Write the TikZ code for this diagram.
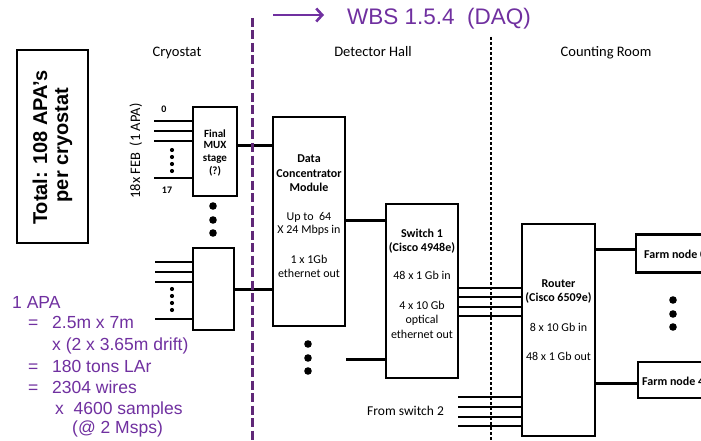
\documentclass[tikz,border=0pt]{standalone}
\usepackage{fontspec}
\setmainfont{Carlito}
\newfontfamily\arial{Liberation Sans}
\usetikzlibrary{arrows.meta}
\definecolor{apurple}{RGB}{112,48,160}
\definecolor{dpurple}{RGB}{96,40,120}
\tikzset{
  box/.style={draw=black, line width=2.4pt, rectangle, inner sep=0pt, fill=white},
  txt/.style={inner sep=0pt, anchor=base},
  hdr/.style={txt, font=\fontsize{14.5}{17}\selectfont},
  reg/.style={txt, font=\fontsize{12}{14}\selectfont},
  bld/.style={txt, font=\bfseries\fontsize{12}{14}\selectfont},
  muxt/.style={txt, font=\bfseries\fontsize{11}{13}\selectfont},
  purp/.style={inner sep=0pt, anchor=base west, text=apurple, font=\arial\fontsize{17.5}{21}\selectfont},
  conn/.style={line width=3pt},
  wire/.style={line width=2pt},
  bigdot/.style={fill=black},
}
\begin{document}
\begin{tikzpicture}[x=1pt,y=-1pt]
\useasboundingbox (0,0) rectangle (701,441);
\clip (0,0) rectangle (701,441);
\fill[white] (0,0) rectangle (701,441);

% title
\coordinate (ta) at (273,15);
\coordinate (tb) at (324,15);
\draw[apurple, line width=2.6pt, -{Straight Barb[length=6pt,width=13pt,line width=2.6pt]}] (ta) -- (tb);
\node[inner sep=0pt, anchor=base west, text=apurple, font=\arial\fontsize{22.5}{26}\selectfont] (title) at (347,25) {WBS 1.5.4\ \ (DAQ)};

% headers
\node[hdr] (hcryo) at (177,57) {Cryostat};
\node[hdr] (hdet) at (373,57) {Detector Hall};
\node[hdr] (hcount) at (606,57) {Counting Room};

% total box
\node[box, minimum width=71pt, minimum height=193pt] (total) at (52.5,146.5) {};
\node[txt, rotate=90, font=\arial\bfseries\fontsize{20}{24}\selectfont] (tot1) at (47,147.5) {Total: 108 APA’s};
\node[txt, rotate=90, font=\arial\bfseries\fontsize{20}{24}\selectfont] (tot2) at (68,145) {per cryostat};

% FEB label
\node[txt, rotate=90, font=\fontsize{14.5}{17}\selectfont] (feb) at (140,151) {18x FEB\ \ (1 APA)};

% boxes
\node[box, minimum width=44pt, minimum height=89pt] (mux1) at (215,151.5) {};
\node[box, minimum width=41pt, minimum height=82pt] (mux2) at (213.5,289) {};
\node[box, minimum width=72pt, minimum height=209pt] (dcm) at (309,221.5) {};
\node[box, minimum width=72pt, minimum height=174pt] (sw1) at (422,291) {};
\node[box, minimum width=73pt, minimum height=212pt] (router) at (558.5,330) {};
\node[box, minimum width=80pt, minimum height=38pt] (farm0) at (676,253.5) {};
\node[box, minimum width=78pt, minimum height=36pt] (farm47) at (677,380) {};

% mux1 text
\node[muxt] (m1a) at (215,137) {Final};
\node[muxt] (m1b) at (215,149) {MUX};
\node[muxt] (m1c) at (215,161) {stage};
\node[muxt] (m1d) at (215,174) {(?)};
\node[txt, font=\bfseries\fontsize{10}{12}\selectfont] (l0) at (164,113) {0};
\node[txt, font=\bfseries\fontsize{10}{12}\selectfont] (l17) at (167,193) {17};

% dcm text
\node[bld] (d1) at (309,162) {Data};
\node[bld] (d2) at (309,177) {Concentrator};
\node[bld] (d3) at (309,191) {Module};
\node[reg] (d4) at (309,220) {Up to\ \ 64};
\node[reg] (d5) at (309,233) {X 24 Mbps in};
\node[reg] (d6) at (309,263) {1 x 1Gb};
\node[reg] (d7) at (309,277) {ethernet out};

% switch text
\node[bld] (s1) at (422,237) {Switch 1};
\node[bld] (s2) at (422,251) {(Cisco 4948e)};
\node[reg] (s3) at (422,279) {48 x 1 Gb in};
\node[reg] (s4) at (422,309) {4 x 10 Gb};
\node[reg] (s5) at (422,323) {optical};
\node[reg] (s6) at (422,338) {ethernet out};

% router text
\node[bld] (r1) at (558.5,287) {Router};
\node[bld] (r2) at (558.5,301) {(Cisco 6509e)};
\node[reg] (r3) at (558.5,331) {8 x 10 Gb in};
\node[reg] (r4) at (558.5,360) {48 x 1 Gb out};

% farm text
\node[bld, anchor=base west] (f0) at (644,258) {Farm node 0};
\node[bld, anchor=base west] (f47) at (642,385) {Farm node 47};

\node[txt, anchor=base west, font=\fontsize{13.5}{16}\selectfont] (from2) at (367,415) {From switch 2};

% input wires mux1
\foreach \y/\n in {121/a,131/b,141/c,178/d}{
  \coordinate (in1\n) at (154,\y);
  \draw[wire] (in1\n) -- (mux1.west |- in1\n);
}
\foreach \y/\n in {262/a,272/b,282/c,319/d}{
  \coordinate (in2\n) at (155,\y);
  \draw[wire] (in2\n) -- (mux2.west |- in2\n);
}
% small dots
\foreach \y in {150,157,164,171}{\fill (172,\y) circle (2.1pt);}
\foreach \y in {289,296,303,310}{\fill (172,\y) circle (2.1pt);}

% connectors
\coordinate (c1) at (0,145);
\draw[conn] (mux1.east |- c1) -- (dcm.west |- c1);
\draw[conn] (mux2.east) -- (dcm.west |- mux2.east);
\coordinate (c2) at (0,220);
\draw[conn] (dcm.east |- c2) -- (sw1.west |- c2);
\coordinate (dcmx) at (346,359);
\draw[conn] (dcmx) -- (sw1.west |- dcmx);
\foreach \y/\n in {288/a,297/b,307/c,316/d}{
  \coordinate (o\n) at (0,\y);
  \draw[wire] (sw1.east |- o\n) -- (router.west |- o\n);
}
\foreach \y/\n in {397/a,407/b,417/c,426/d}{
  \coordinate (fs\n) at (458,\y);
  \draw[wire] (fs\n) -- (router.west |- fs\n);
}
\coordinate (c3) at (0,249);
\draw[conn] (router.east |- c3) -- (farm0.west |- c3);
\coordinate (c4) at (0,383);
\draw[conn] (router.east |- c4) -- (farm47.west |- c4);

% big dots
\foreach \y in {206,220,233}{\fill (213,\y) circle (3.8pt);}
\foreach \y in {344,358,371}{\fill (308,\y) circle (3.8pt);}
\foreach \y in {300,314,327}{\fill (673,\y) circle (3.8pt);}

% divider lines
\coordinate (pv1) at (252,18);
\coordinate (pv2) at (252,441);
\draw[dpurple, line width=3pt, dash pattern=on 9pt off 3.5pt] (pv1) -- (pv2);
\coordinate (bv1) at (491,37);
\coordinate (bv2) at (491,441);
\draw[black, line width=1.2pt, dash pattern=on 3pt off 2pt] (bv1) -- (bv2);

% purple notes
\node[purp] (p1) at (12,308) {1 APA};
\node[purp] (p2a) at (28,328) {=};
\node[purp] (p2b) at (52,328) {2.5m x 7m};
\node[purp] (p3) at (52,350) {x (2 x 3.65m drift)};
\node[purp] (p4a) at (28,372) {=};
\node[purp] (p4b) at (52,372) {180 tons LAr};
\node[purp] (p5a) at (28,393) {=};
\node[purp] (p5b) at (52,393) {2304 wires};
\node[purp] (p6) at (55,414) {x\ \ 4600 samples};
\node[purp] (p7) at (72,433) {(@ 2 Msps)};
\end{tikzpicture}
\end{document}
